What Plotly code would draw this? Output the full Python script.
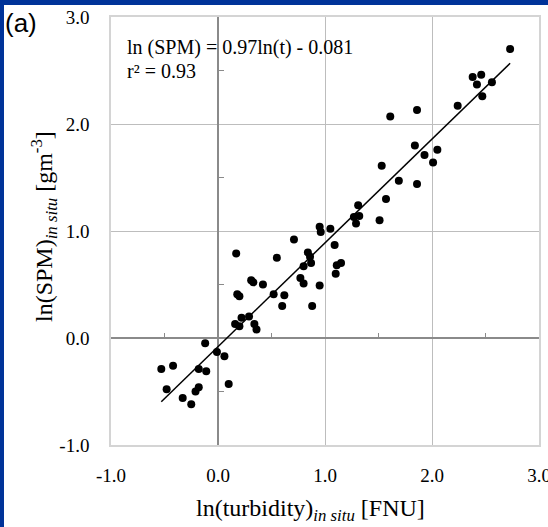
import plotly.graph_objects as go

# ---- data ----
turbidity_ln = [-0.53, -0.42, -0.48, -0.33, -0.25, -0.21, -0.18, -0.18, -0.11, -0.12, -0.01, 0.06, 0.10,
                0.16, 0.20, 0.22, 0.29, 0.34, 0.36, 0.17, 0.18, 0.20, 0.31, 0.33, 0.42, 0.55, 0.52, 0.62,
                0.60, 0.71, 0.77, 0.80, 0.80, 0.84, 0.86, 0.87, 0.88, 0.95, 0.95, 0.96, 1.05, 1.09, 1.11,
                1.15, 1.10,
                1.31, 1.27, 1.32, 1.29, 1.51, 1.57, 1.53, 1.69, 1.86, 1.84, 1.93, 2.05, 2.01, 1.61, 1.86,
                2.24, 2.38, 2.46, 2.42, 2.56, 2.47, 2.73]
spm_ln = [-0.29, -0.26, -0.48, -0.56, -0.62, -0.50, -0.46, -0.29, -0.31, -0.05, -0.13, -0.17, -0.43,
          0.13, 0.11, 0.19, 0.20, 0.13, 0.08, 0.79, 0.41, 0.39, 0.54, 0.52, 0.50, 0.75, 0.41, 0.40,
          0.30, 0.92, 0.56, 0.51, 0.67, 0.80, 0.76, 0.70, 0.30, 0.49, 1.04, 0.99, 1.02, 0.87, 0.68,
          0.70, 0.60,
          1.24, 1.13, 1.14, 1.07, 1.10, 1.30, 1.61, 1.47, 1.44, 1.80, 1.71, 1.76, 1.64, 2.07, 2.13,
          2.17, 2.44, 2.46, 2.37, 2.39, 2.26, 2.70]

FIT_SLOPE = 0.97
FIT_INTERCEPT = -0.081
FIT_X = [-0.53, 2.73]

TICK_VALS = [-1, 0, 1, 2, 3]
TICK_TEXT = ["-1.0", "0.0", "1.0", "2.0", "3.0"]
MINOR_TICKS = [-0.5, 0.5, 1.5, 2.5]
AX_RANGE = [-1, 3]

EQ_TEXT = "ln (SPM) = 0.97ln(t) - 0.081"
R2_TEXT = "r\u00b2 = 0.93"
PANEL = "(a)"
X_TITLE = "ln(turbidity)<sub><i>in situ</i></sub> [FNU]"
Y_TITLE = "ln(SPM)<sub><i>in situ</i></sub> [gm<sup>-3</sup>]"

SERIF = "Liberation Serif, Times New Roman, serif"
BLUE = "#003399"

fit_y = [FIT_SLOPE * x + FIT_INTERCEPT for x in FIT_X]

fig = go.Figure()
fig.add_trace(go.Scatter(x=FIT_X, y=fit_y, mode="lines",
                         line=dict(color="black", width=1.5),
                         showlegend=False, hoverinfo="skip"))
fig.add_trace(go.Scatter(x=turbidity_ln, y=spm_ln, mode="markers",
                         marker=dict(color="black", size=8),
                         showlegend=False))
# helper traces so overlay axes (ticks on the zero lines) are drawn
fig.add_trace(go.Scatter(x=[None], y=[None], xaxis="x2", yaxis="y",
                         showlegend=False, hoverinfo="skip"))
fig.add_trace(go.Scatter(x=[None], y=[None], xaxis="x", yaxis="y2",
                         showlegend=False, hoverinfo="skip"))

zero_pos = (0 - AX_RANGE[0]) / (AX_RANGE[1] - AX_RANGE[0])

common = dict(range=AX_RANGE, tickvals=TICK_VALS, ticktext=TICK_TEXT,
              showgrid=True, gridcolor="#bdbdbd", gridwidth=1,
              zeroline=True, zerolinecolor="#8a8a8a", zerolinewidth=1.5,
              showline=True, linecolor="#d4d4d4", linewidth=1.5, mirror=True,
              ticks="", tickfont=dict(family=SERIF, size=19, color="black"),
              ticklabeloverflow="allow", automargin=False, fixedrange=True)

fig.update_layout(
    width=548, height=527,
    margin=dict(l=111, r=9, t=17, b=82, autoexpand=False),
    paper_bgcolor="white", plot_bgcolor="white",
    xaxis=dict(**common, ticklabelstandoff=12),
    yaxis=dict(**common, ticklabelstandoff=16),
    xaxis2=dict(overlaying="x", anchor="free", position=zero_pos, range=AX_RANGE,
                tickvals=MINOR_TICKS, ticks="inside", ticklen=5, tickwidth=1,
                tickcolor="#8a8a8a", showticklabels=False, showgrid=False,
                zeroline=False, showline=False, automargin=False, fixedrange=True),
    yaxis2=dict(overlaying="y", anchor="free", position=zero_pos, range=AX_RANGE,
                side="left", tickvals=MINOR_TICKS, ticks="inside", ticklen=5,
                tickwidth=1, tickcolor="#8a8a8a", showticklabels=False,
                showgrid=False, zeroline=False, showline=False, automargin=False,
                fixedrange=True),
    showlegend=False,
)

# blue slide border strips (top and left)
fig.add_shape(type="rect", xref="paper", yref="paper",
              x0=-0.3, x1=1.1, y0=(445 - 5) / 428, y1=1.1,
              fillcolor=BLUE, line=dict(width=0), layer="above")
fig.add_shape(type="rect", xref="paper", yref="paper",
              x0=-0.3, x1=(4 - 111) / 428, y0=-0.3, y1=1.1,
              fillcolor=BLUE, line=dict(width=0), layer="above")

fig.add_annotation(text=EQ_TEXT, xref="paper", yref="paper",
                   x=(125 - 111) / 428, y=(445 - 48) / 428,
                   xanchor="left", yanchor="middle", showarrow=False,
                   font=dict(family=SERIF, size=20, color="black"))
fig.add_annotation(text=R2_TEXT, xref="paper", yref="paper",
                   x=(125 - 111) / 428, y=(445 - 71) / 428,
                   xanchor="left", yanchor="middle", showarrow=False,
                   font=dict(family=SERIF, size=20, color="black"))
fig.add_annotation(text=PANEL, xref="paper", yref="paper",
                   x=(3 - 111) / 428, y=(445 - 23) / 428,
                   xanchor="left", yanchor="middle", showarrow=False,
                   font=dict(family="Liberation Sans, Arial, sans-serif", size=26, color="black"))
fig.add_annotation(text=X_TITLE, xref="paper", yref="paper",
                   x=(310 - 111) / 428, y=(445 - 510) / 428,
                   xanchor="center", yanchor="middle", showarrow=False,
                   font=dict(family=SERIF, size=24, color="black"))
fig.add_annotation(text=Y_TITLE, xref="paper", yref="paper",
                   x=(44 - 111) / 428, y=(445 - 227) / 428, textangle=-90,
                   xanchor="center", yanchor="middle", showarrow=False,
                   font=dict(family=SERIF, size=24, color="black"))

fig.write_html("out.html")
